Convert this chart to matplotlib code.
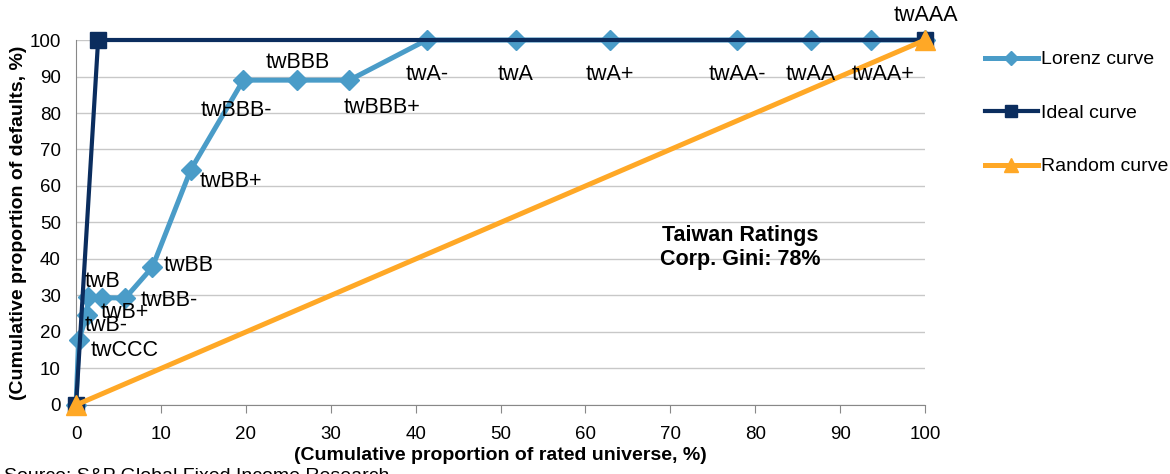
import matplotlib
matplotlib.use("Agg")
import matplotlib.pyplot as plt

plt.rcParams["font.family"] = ["Liberation Sans", "DejaVu Sans"]

# Lorenz curve points (cumulative % rated universe, cumulative % defaults)
lorenz_x = [0, 0.3, 1.3, 1.4, 3.1, 5.8, 9.0, 13.5, 19.7, 26.0, 32.2, 41.3, 51.8, 62.9, 77.9, 86.6, 93.6, 100]
lorenz_y = [0, 17.8, 24.7, 29.6, 29.4, 29.3, 37.8, 64.4, 89.0, 89.0, 89.0, 100, 100, 100, 100, 100, 100, 100]
ratings = ["", "twCCC", "twB-", "twB", "twB+", "twBB-", "twBB", "twBB+", "twBBB-", "twBBB",
           "twBBB+", "twA-", "twA", "twA+", "twAA-", "twAA", "twAA+", "twAAA"]

ideal_x = [0, 2.6, 100]
ideal_y = [0, 100, 100]
random_x = [0, 100]
random_y = [0, 100]

# label offsets in pixels (dx, dy, ha)
label_pos = {
    "twCCC": (12, -10, "left"),
    "twB-": (-2, -11, "left"),
    "twB": (-3, 15, "left"),
    "twB+": (-2, -15, "left"),
    "twBB-": (15, -2, "left"),
    "twBB": (11, 2, "left"),
    "twBB+": (9, -12, "left"),
    "twBBB-": (-7, -30, "center"),
    "twBBB": (1, 18, "center"),
    "twBBB+": (33, -27, "center"),
    "twA-": (1, -34, "center"),
    "twA": (0, -34, "center"),
    "twA+": (0, -34, "center"),
    "twAA-": (0, -34, "center"),
    "twAA": (0, -34, "center"),
    "twAA+": (12, -34, "center"),
    "twAAA": (1, 25, "center"),
}

fig = plt.figure(figsize=(11.7, 4.74), dpi=100)
ax = fig.add_axes([0.065, 0.1456, 0.7256, 0.77])

ax.plot(lorenz_x, lorenz_y, color="#4A9CC8", lw=3.6, marker="D", markersize=10,
        label="Lorenz curve", clip_on=False, zorder=3)
ax.plot(ideal_x, ideal_y, color="#0B2D5E", lw=3.0, marker="s", markersize=12,
        label="Ideal curve", clip_on=False, zorder=4)
ax.plot(random_x, random_y, color="#FFA826", lw=3.6, marker="^", markersize=14,
        label="Random curve", clip_on=False, zorder=5)

for x, y, name in zip(lorenz_x, lorenz_y, ratings):
    if not name:
        continue
    dx, dy, ha = label_pos[name]
    ax.annotate(name, (x, y), xytext=(dx, dy), textcoords="offset pixels",
                ha=ha, va="center", fontsize=15.5, color="black", zorder=6)

ax.text(78.2, 43.2, "Taiwan Ratings\nCorp. Gini: 78%", fontsize=15.5, fontweight="bold",
        ha="center", va="center", linespacing=1.15)

ax.set_xlim(0, 100)
ax.set_ylim(0, 100)
ax.set_xticks(range(0, 101, 10))
ax.set_yticks(range(0, 101, 10))
ax.tick_params(axis="both", labelsize=13.5, colors="black")
ax.tick_params(axis="x", length=6, color="#888888", pad=9)
ax.tick_params(axis="y", length=0, pad=11)
ax.grid(axis="y", color="#C8C8C8", lw=1)
ax.set_axisbelow(True)
for side in ["top", "right"]:
    ax.spines[side].set_visible(False)
ax.spines["left"].set_color("#888888")
ax.spines["bottom"].set_color("#888888")

ax.set_xlabel("(Cumulative proportion of rated universe, %)", fontsize=14,
              fontweight="bold", labelpad=3)
ax.set_ylabel("(Cumulative proportion of defaults, %)", fontsize=14,
              fontweight="bold", labelpad=2)

fig.legend(loc="upper left", bbox_to_anchor=(0.842, 0.893), frameon=False,
           fontsize=14, labelspacing=1.85, handlelength=2.7, handletextpad=0.15,
           borderpad=0, borderaxespad=0, markerscale=0.7)

fig.text(0.003, 0.012, "Source: S&P Global Fixed Income Research", fontsize=14,
         ha="left", va="top")

fig.savefig("out.png", dpi=100)
